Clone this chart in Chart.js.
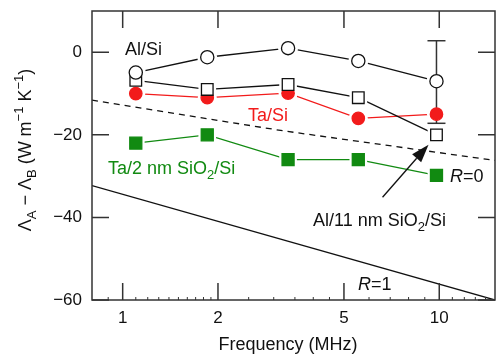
<!DOCTYPE html>
<html>
<head>
<meta charset="utf-8">
<script src="https://cdn.jsdelivr.net/npm/chart.js@4/dist/chart.umd.min.js"></script>
<style>
  html, body { margin: 0; padding: 0; background: #fff; }
  #wrap { width: 496px; height: 354px; }
</style>
</head>
<body>
<div id="wrap"><canvas id="chart" width="496" height="354"></canvas></div>
<script>
// frequencies (MHz) of the measured points
const freqs = [1.10, 1.85, 3.33, 5.55, 9.8];
// Lambda_A - Lambda_B values, W m^-1 K^-1
const alSi = [-4.9, -1.2, 1.0, -2.1, -7.0];
const alSiO2Si = [-6.8, -9.0, -7.8, -11.0, -20.0];
const taSi = [-10.0, -11.0, -9.9, -16.0, -15.0];
const taSiO2Si = [-22.0, -20.0, -26.0, -26.0, -29.8];
// error bar on the last Al/Si point
const errFreq = 9.8;
const errHigh = 2.8;
const errLow = -17.2;
// model curves R=0 (dashed) and R=1 (solid)
const rZeroFreq = [0.8, 3.2, 15];
const rZeroVal = [-11.6, -19.0, -26.2];
const rOneFreq = [0.8, 15];
const rOneVal = [-32.3, -60];
// axis ticks
const xTicks = [1, 2, 5, 10];
const xMinor = [0.9, 1.1, 1.2, 1.3, 1.4, 1.5, 1.6, 1.7, 1.8, 1.9, 2.5, 3, 3.5, 4, 4.5, 6, 7, 8, 9, 11, 12, 13, 14];
const yTicks = [-60, -40, -20, 0];

const FONT = '"Liberation Sans", Arial, Helvetica, sans-serif';
const RED = '#f21b1b';
const GREEN = '#118a11';
const INK = '#111';

const pts = (xs, ys) => xs.map((x, i) => ({ x: x, y: ys[i] }));

function lineSet(data, color, extra) {
  return Object.assign({
    data: data, borderColor: color, borderWidth: 1.3, pointRadius: 0,
    showLine: true, fill: false, order: 3
  }, extra || {});
}
function haloSet(data, style, r) {
  return {
    data: data, showLine: false, pointStyle: style, pointRadius: r,
    pointBackgroundColor: '#fff', pointBorderWidth: 0, pointBorderColor: '#fff', order: 2
  };
}
function markSet(data, style, r, fillColor, edge) {
  return {
    data: data, showLine: false, pointStyle: style, pointRadius: r,
    pointBackgroundColor: fillColor, pointBorderColor: edge, pointBorderWidth: 1.3, order: 0
  };
}

const frame = {
  id: 'frame',
  afterDatasetsDraw(chart) {
    const { ctx, chartArea: a, scales: { x, y } } = chart;
    ctx.save();
    ctx.strokeStyle = '#333';
    ctx.lineWidth = 1.5;
    ctx.strokeRect(a.left, a.top, a.right - a.left, a.bottom - a.top);
    ctx.beginPath();
    xTicks.forEach(v => {
      const px = x.getPixelForValue(v);
      ctx.moveTo(px, a.bottom); ctx.lineTo(px, a.bottom - 17);
      ctx.moveTo(px, a.top); ctx.lineTo(px, a.top + 17);
    });
    yTicks.forEach(v => {
      const py = y.getPixelForValue(v);
      ctx.moveTo(a.left, py); ctx.lineTo(a.left + 17, py);
      ctx.moveTo(a.right, py); ctx.lineTo(a.right - 17, py);
    });
    ctx.stroke();
    ctx.lineWidth = 1;
    ctx.beginPath();
    xMinor.forEach(v => {
      const px = x.getPixelForValue(v);
      ctx.moveTo(px, a.bottom); ctx.lineTo(px, a.bottom - 3);
    });
    ctx.stroke();
    ctx.restore();
  }
};

// draws text made of pieces, some of them sub/superscript
function rich(ctx, parts, x, y, size, color, align) {
  const small = Math.round(size * 0.7);
  const w = parts.reduce((s, p) => {
    ctx.font = (p.s ? small : size) + 'px ' + FONT;
    return s + ctx.measureText(p.t).width;
  }, 0);
  let cx = align === 'center' ? x - w / 2 : x;
  ctx.fillStyle = color;
  ctx.textAlign = 'left';
  ctx.textBaseline = 'alphabetic';
  parts.forEach(p => {
    ctx.font = (p.i ? 'italic ' : '') + (p.s ? small : size) + 'px ' + FONT;
    const dy = p.s === 'sub' ? size * 0.28 : p.s === 'sup' ? -size * 0.42 : 0;
    ctx.fillText(p.t, cx, y + dy);
    cx += ctx.measureText(p.t).width;
  });
}

const notes = {
  id: 'notes',
  afterDraw(chart) {
    const { ctx, scales: { x, y } } = chart;
    ctx.save();
    rich(ctx, [{ t: 'Al/Si' }], 125, 55, 18, INK);
    rich(ctx, [{ t: 'Ta/Si' }], 248, 121, 18, RED);
    rich(ctx, [{ t: 'Ta/2 nm SiO' }, { t: '2', s: 'sub' }, { t: '/Si' }], 108, 174, 18, GREEN);
    rich(ctx, [{ t: 'R', i: true }, { t: '=0' }], 450, 182, 18, INK);
    rich(ctx, [{ t: 'Al/11 nm SiO' }, { t: '2', s: 'sub' }, { t: '/Si' }], 313, 226, 18, INK);
    rich(ctx, [{ t: 'R', i: true }, { t: '=1' }], 358, 290, 18, INK);
    rich(ctx, [{ t: 'Frequency (MHz)' }], 288, 350, 18, INK, 'center');

    ctx.save();
    ctx.translate(31, 150);
    ctx.rotate(-Math.PI / 2);
    rich(ctx, [
      { t: 'Λ' }, { t: 'A', s: 'sub' }, { t: ' − Λ' }, { t: 'B', s: 'sub' },
      { t: ' (W m' }, { t: '−1', s: 'sup' }, { t: ' K' }, { t: '−1', s: 'sup' }, { t: ')' }
    ], 0, 0, 18, INK, 'center');
    ctx.restore();

    // arrow pointing at the Al/11 nm SiO2/Si point
    const x0 = x.getPixelForValue(6.62), y0 = y.getPixelForValue(-35.1);
    const x1 = x.getPixelForValue(9.25), y1 = y.getPixelForValue(-22.4);
    const ang = Math.atan2(y1 - y0, x1 - x0);
    const len = 18, half = 6;
    const bx = x1 - len * Math.cos(ang), by = y1 - len * Math.sin(ang);
    ctx.strokeStyle = INK; ctx.fillStyle = INK; ctx.lineWidth = 1.3;
    ctx.beginPath(); ctx.moveTo(x0, y0); ctx.lineTo(bx, by); ctx.stroke();
    ctx.beginPath();
    ctx.moveTo(x1, y1);
    ctx.lineTo(bx + half * Math.sin(ang), by - half * Math.cos(ang));
    ctx.lineTo(bx - half * Math.sin(ang), by + half * Math.cos(ang));
    ctx.closePath(); ctx.fill();
    ctx.restore();
  }
};

const dAlSi = pts(freqs, alSi);
const dAlSiO2 = pts(freqs, alSiO2Si);
const dTaSi = pts(freqs, taSi);
const dTaSiO2 = pts(freqs, taSiO2Si);

new Chart(document.getElementById('chart'), {
  type: 'scatter',
  data: {
    datasets: [
      markSet(dAlSi, 'circle', 6.6, '#fff', INK),
      markSet(dAlSiO2, 'rect', 8.2, '#fff', INK),
      markSet(dTaSi, 'circle', 6.2, RED, RED),
      markSet(dTaSiO2, 'rect', 8.5, GREEN, GREEN),
      {
        data: [{ x: errFreq, y: errHigh }, { x: errFreq, y: errLow }],
        showLine: true, borderColor: '#333', borderWidth: 1.5,
        pointStyle: 'line', pointRadius: 9, pointBorderColor: '#333', pointBorderWidth: 1.5,
        order: 1
      },
      haloSet(dAlSi, 'circle', 10),
      haloSet(dAlSiO2, 'rect', 12.5),
      haloSet(dTaSi, 'circle', 9.5),
      haloSet(dTaSiO2, 'rect', 12.5),
      lineSet(dAlSi, INK),
      lineSet(dAlSiO2, INK),
      lineSet(dTaSi, RED),
      lineSet(dTaSiO2, GREEN),
      lineSet(pts(rZeroFreq, rZeroVal), INK, { borderDash: [6, 5], order: 4 }),
      lineSet(pts(rOneFreq, rOneVal), INK, { order: 4 })
    ]
  },
  options: {
    responsive: false,
    animation: false,
    events: [],
    layout: { autoPadding: false, padding: { top: 11, right: 1, left: 0, bottom: 0 } },
    plugins: { legend: { display: false }, tooltip: { enabled: false } },
    scales: {
      x: {
        type: 'logarithmic', min: 0.8, max: 15,
        afterBuildTicks: s => { s.ticks = xTicks.map(v => ({ value: v })); },
        afterFit: s => { s.height = 54; s.paddingLeft = 0; s.paddingRight = 0; },
        grid: { display: false, drawTicks: false },
        border: { display: false },
        ticks: {
          color: INK, padding: 8, maxRotation: 0, autoSkip: false,
          font: { family: FONT, size: 17 },
          callback: v => String(v)
        }
      },
      y: {
        type: 'linear', min: -60, max: 10,
        afterBuildTicks: s => { s.ticks = yTicks.map(v => ({ value: v })); },
        afterFit: s => { s.width = 92; s.paddingTop = 0; s.paddingBottom = 0; },
        grid: { display: false, drawTicks: false },
        border: { display: false },
        ticks: {
          color: INK, padding: 10,
          font: { family: FONT, size: 17 },
          callback: v => (v < 0 ? '−' + Math.abs(v) : String(v))
        }
      }
    }
  },
  plugins: [frame, notes]
});
</script>
</body>
</html>
